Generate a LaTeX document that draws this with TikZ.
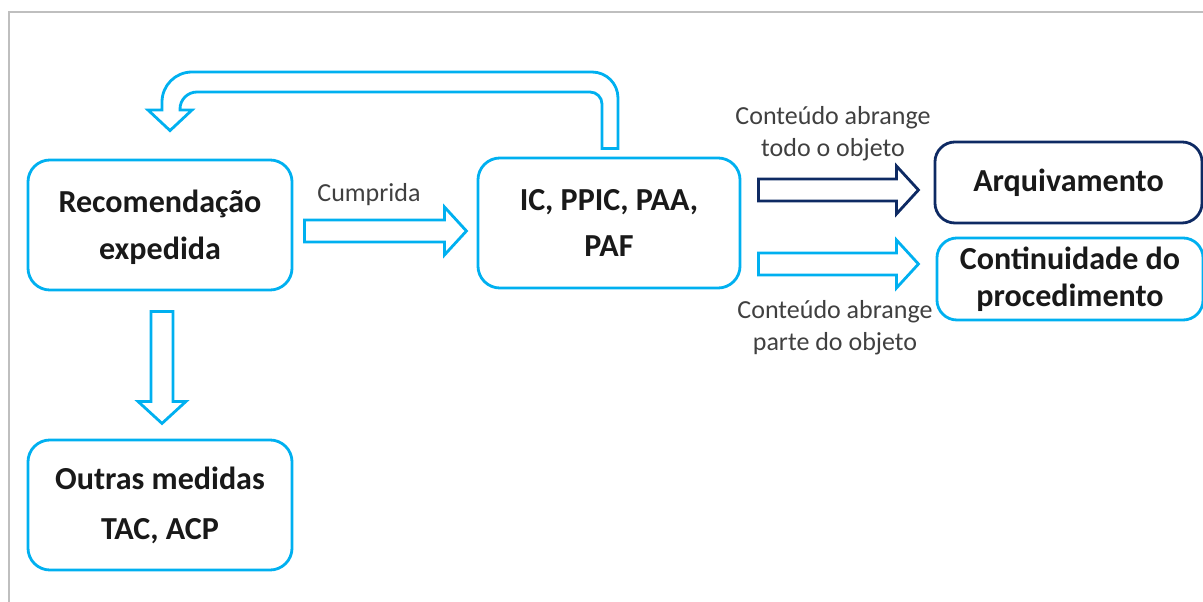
\documentclass[tikz,border=0pt]{standalone}
\usepackage{fontspec}
\setmainfont{Carlito}
\usetikzlibrary{calc}

\definecolor{cyanbox}{HTML}{00B0F0}
\definecolor{navybox}{HTML}{0E2A63}
\definecolor{framegray}{HTML}{BFBFBF}

\newcommand{\boxfont}{\fontsize{22.8}{33.4}\selectfont\bfseries}
\newcommand{\lblfont}{\fontsize{18.5}{22.8}\selectfont}

% hollow block arrow: style, start point, angle, length
\newcommand{\blockarrow}[4]{%
  \draw[#1, shift={#2}, rotate=#3] (0,-11) -- ({#4-22},-11) -- ({#4-22},-24)
    -- (#4,0) -- ({#4-22},24) -- ({#4-22},11) -- (0,11) -- cycle;}

\tikzset{
  box/.style={draw=cyanbox, line width=2pt, rounded corners=0.55cm,
    align=center, font=\boxfont, text=black!90, inner sep=0pt},
  darkbox/.style={box, draw=navybox, rounded corners=0.5cm},
  lbl/.style={align=center, font=\lblfont, text=black!75, inner sep=0pt},
  cyanarrow/.style={draw=cyanbox, line width=2pt, line join=miter},
  navyarrow/.style={cyanarrow, draw=navybox},
}

\begin{document}
\begin{tikzpicture}[x=0.025cm, y=-0.025cm]
    \useasboundingbox (0,0) rectangle (1203,602);
    \draw[framegray, line width=1pt] (9,602) |- (1203,12);

    % boxes
    \node[box, minimum width=6.6cm, minimum height=3.25cm, text depth=0pt] (recom) at (160,225) {Recomendação\\expedida};
    \node[box, minimum width=6.6cm, minimum height=3.25cm, font=\fontsize{22.8}{35.6}\selectfont\bfseries] (outras) at (160,505) {Outras medidas\\TAC, ACP};
    \node[box, minimum width=6.55cm, minimum height=3.25cm] (ic) at (609,223) {IC, PPIC, PAA,\\PAF};
    \node[darkbox, minimum width=6.675cm, minimum height=2.025cm] (arquiv) at (1068.5,182.5) {Arquivamento};
    \node[box, minimum width=6.65cm, minimum height=2.05cm, rounded corners=0.5cm, font=\fontsize{22.8}{26.3}\selectfont\bfseries] (contin) at (1070,279) {Continuidade do\\procedimento};

    % labels
    \node[lbl] (cumprida) at (369,195) {Cumprida};
    \node[lbl] (todo) at (833,134) {Conteúdo abrange\\todo o objeto};
    \node[lbl] (parte) at (835,328) {Conteúdo abrange\\parte do objeto};

    % block arrows
    \blockarrow{cyanarrow}{($(recom.east)+(11,6)$)}{0}{162}
    \blockarrow{cyanarrow}{($(recom.south)+(2,20)$)}{-90}{112}
    \blockarrow{navyarrow}{($(ic.east)+(17,-33)$)}{0}{160}
    \blockarrow{cyanarrow}{($(ic.east)+(17,41)$)}{0}{160}

    % return arrow from ic back to recom
    \draw[cyanarrow] ($(ic.north)+(9,-8)$) -- (618,98)
      .. controls (618,83.6) and (606.4,72) .. (592,72) -- (192,72)
      .. controls (175.4,72) and (162,85.4) .. (162,102) -- (162,110)
      -- (148,110) -- ($(recom.north)+(10,-28)$) -- (192,110) -- (180,110) -- (180,109)
      .. controls (180,99.6) and (187.6,92) .. (197,92) -- (590,92)
      .. controls (596.6,92) and (602,97.4) .. (602,104) -- ($(ic.north)+(-7,-8)$) -- cycle;
\end{tikzpicture}
\end{document}
